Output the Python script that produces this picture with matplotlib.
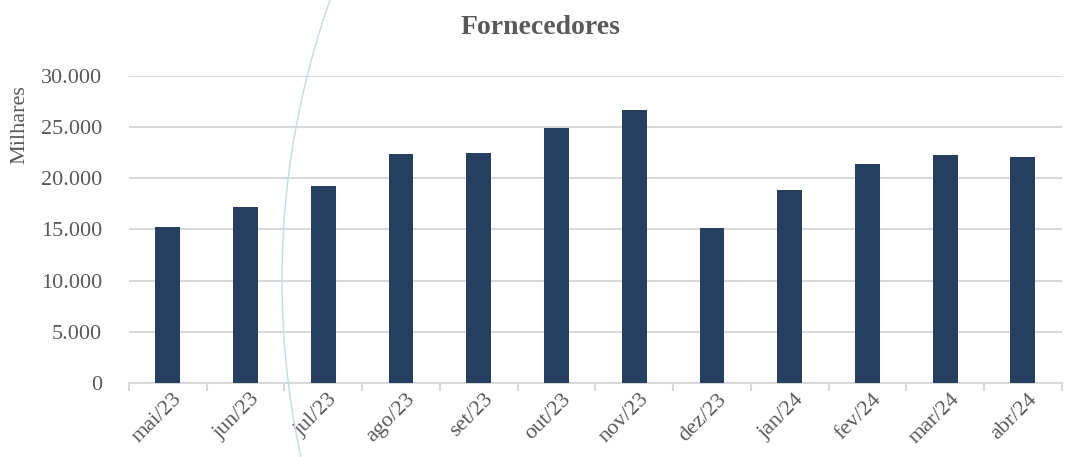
import numpy as np
import matplotlib
matplotlib.use("Agg")
import matplotlib.pyplot as plt
from matplotlib.patches import Arc
from matplotlib.ticker import FuncFormatter, FixedLocator

months = ["mai/23", "jun/23", "jul/23", "ago/23", "set/23", "out/23",
          "nov/23", "dez/23", "jan/24", "fev/24", "mar/24", "abr/24"]
values = [15200, 17200, 19250, 22400, 22450, 24900,
          26650, 15100, 18850, 21350, 22300, 22050]

plt.rcParams['font.family'] = ['Liberation Serif', 'DejaVu Serif']
GRAY = '#595959'
GRID = '#D9D9D9'
BAR = '#243F60'

fig = plt.figure(figsize=(10.66, 4.57), dpi=100)
ax = fig.add_axes([0.121, 0.162, 0.875, 0.672])

x = np.arange(len(months))
ax.bar(x, values, width=0.32, color=BAR, zorder=3)

ax.set_xlim(-0.5, len(months) - 0.5)
ax.set_ylim(0, 30000)
ax.set_yticks(np.arange(0, 30001, 5000))
ax.yaxis.set_major_formatter(FuncFormatter(lambda v, p: "{:,.0f}".format(v).replace(",", ".")))
ax.grid(axis='y', color=GRID, linewidth=1.5, zorder=0)
ax.tick_params(axis='y', length=0, labelsize=16, labelcolor=GRAY, pad=19.5)

ax.xaxis.set_major_locator(FixedLocator(np.arange(-0.5, len(months), 1.0)))
ax.xaxis.set_major_formatter(FuncFormatter(lambda v, p: ""))
ax.xaxis.set_minor_locator(FixedLocator(x + 0.06))
ax.set_xticklabels(months, minor=True)
ax.tick_params(axis='x', which='major', length=6, width=1.5, color=GRID)
ax.tick_params(axis='x', which='minor', length=0, labelsize=16, labelcolor=GRAY, pad=5)
for lbl in ax.get_xticklabels(minor=True):
    lbl.set_rotation(45)
    lbl.set_ha('right')
    lbl.set_va('top')
    lbl.set_rotation_mode('anchor')

for side in ['top', 'right', 'left']:
    ax.spines[side].set_visible(False)
ax.spines['bottom'].set_color(GRID)
ax.spines['bottom'].set_linewidth(1.5)

fig.text(0.507, 0.94, "Fornecedores", ha='center', va='center',
         fontsize=20, fontweight='bold', color=GRAY)
fig.text(0.019, 0.728, "Milhares", rotation=90, ha='center', va='center',
         fontsize=16, color=GRAY)

# light blue decorative arc from the background
W, H = 1066, 457
arc = Arc((1122 / W, 1 - 280 / H), 2 * 840 / W, 2 * 840 / H, theta1=135, theta2=225,
          transform=fig.transFigure, color='#C6DDEE', linewidth=1.1, zorder=10)
fig.add_artist(arc)

fig.savefig("out.png", dpi=100)
